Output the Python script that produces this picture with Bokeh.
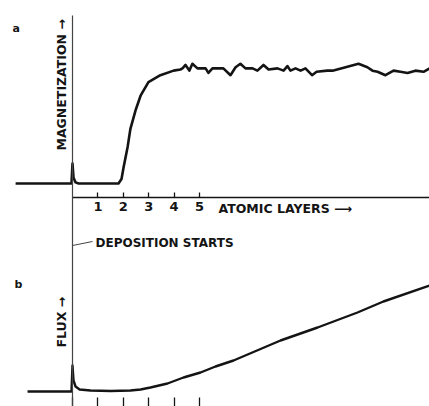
from bokeh.plotting import figure
from bokeh.models import (Range1d, LinearAxis, FixedTicker, Label, Arrow,
                          ColumnDataSource)
from bokeh.embed import file_html
from bokeh.resources import INLINE

# ---- data (x in atomic layers, y in arbitrary units) ----
mag_layers = [-2.24, -0.04, 0.0, 0.04, 0.12, 0.24, 1.70, 1.81, 1.93, 2.01, 2.17, 2.28,
              2.48, 2.68, 2.99, 3.46, 3.98, 4.25, 4.33, 4.45, 4.60, 4.72, 4.92, 5.24,
              5.35, 5.51, 5.94, 6.22, 6.42, 6.61, 6.81, 7.09, 7.28, 7.52, 7.72, 8.07,
              8.31, 8.46, 8.58, 8.78, 8.98, 9.17, 9.43, 9.61, 10.03, 10.24, 11.26,
              11.61, 11.81, 12.01, 12.32, 12.64, 12.91, 13.19, 13.50, 13.82, 14.06]
mag_values = [0.0, 0.0, 0.175, 0.05, 0.01, 0.0, 0.0, 0.0, 0.04, 0.14, 0.32, 0.48,
              0.64, 0.77, 0.89, 0.95, 0.99, 1.00, 1.01, 1.04, 0.99, 1.05, 1.01, 1.01,
              0.97, 1.01, 1.01, 0.95, 1.02, 1.05, 1.01, 1.01, 0.99, 1.04, 1.00, 1.01,
              0.99, 1.03, 0.99, 1.01, 0.99, 1.01, 0.95, 0.98, 0.99, 0.99, 1.05, 1.02,
              0.99, 0.98, 0.95, 0.99, 0.98, 0.97, 0.99, 0.98, 1.01]

flux_layers = [-1.77, -0.04, 0.0, 0.04, 0.12, 0.28, 0.71, 1.50, 2.28, 2.68, 3.07,
               3.74, 4.37, 5.04, 5.63, 6.34, 8.19, 9.65, 11.22, 12.24, 14.06]
flux_values = [0.0, 0.0, 0.26, 0.11, 0.05, 0.02, 0.01, 0.005, 0.01, 0.02, 0.04,
               0.08, 0.14, 0.19, 0.25, 0.31, 0.51, 0.64, 0.79, 0.90, 1.06]

layer_ticks = [1, 2, 3, 4, 5]
bottom_ticks = [0, 1, 2, 3, 4, 5]

INK = "#141414"
FONT = "DejaVu Sans"

p = figure(width=429, height=406, output_backend="svg", toolbar_location=None,
           x_range=Range1d(-2.8346, 14.055), y_range=Range1d(-1.9561, 1.6053),
           min_border=0, outline_line_color=None, x_axis_type=None, y_axis_type=None)
p.grid.visible = False
p.extra_y_ranges = {"flux": Range1d(-0.15, 3.91)}

# curves
p.line(x="x", y="y", source=ColumnDataSource(dict(x=mag_layers, y=mag_values)),
       line_color=INK, line_width=2.6, line_join="round")
p.line(x="x", y="y", source=ColumnDataSource(dict(x=flux_layers, y=flux_values)),
       y_range_name="flux", line_color=INK, line_width=2.4, line_join="round")

# vertical line (deposition start)
vax = LinearAxis(fixed_location=0, bounds=(-1.9561, 1.474), ticker=FixedTicker(ticks=[]),
                 axis_line_color="#444444", axis_line_width=1.2,
                 major_label_text_color=None, major_tick_line_color=None,
                 minor_tick_line_color=None)
p.add_layout(vax, "left")

# top panel layer axis
top_ax = LinearAxis(fixed_location=-0.123, bounds=(0, 14.06),
                    ticker=FixedTicker(ticks=layer_ticks),
                    axis_line_color=INK, axis_line_width=1.3,
                    major_tick_in=5, major_tick_out=0, major_tick_line_width=1.3,
                    major_tick_line_color=INK, minor_tick_line_color=None,
                    major_label_standoff=4,
                    major_label_text_font=FONT, major_label_text_font_style="bold",
                    major_label_text_font_size="13px", major_label_text_color=INK)
p.add_layout(top_ax, "below")

# bottom panel ticks
bot_ax = LinearAxis(fixed_location=-1.9561, ticker=FixedTicker(ticks=bottom_ticks),
                    axis_line_color=None, major_tick_in=9, major_tick_out=0,
                    major_tick_line_color=INK, major_tick_line_width=1.3,
                    minor_tick_line_color=None, major_label_text_color=None)
p.add_layout(bot_ax, "below")

def lab(x, y, text, size="13px", angle=0.0, align="left"):
    p.add_layout(Label(x=x, y=y, x_units="screen", y_units="screen", text=text,
                       angle=angle, text_align=align, text_baseline="middle",
                       text_font=FONT, text_font_style="bold",
                       text_font_size=size, text_color=INK))

lab(12, 378, "a", size="11px")
lab(14, 122, "b", size="11px")
lab(61, 256, "MAGNETIZATION \u2192", size="12.5px", angle=1.5708)
lab(61, 59, "FLUX \u2192", size="12.5px", angle=1.5708)
lab(95, 164, "DEPOSITION STARTS", size="12px")
lab(218, 198, "ATOMIC LAYERS \u27f6", size="12.5px")

p.add_layout(Arrow(end=None, x_start=72, y_start=161, x_end=92, y_end=165,
                   start_units="screen", end_units="screen",
                   line_color="#444444", line_width=1))

open("out.html", "w").write(file_html(p, INLINE))
